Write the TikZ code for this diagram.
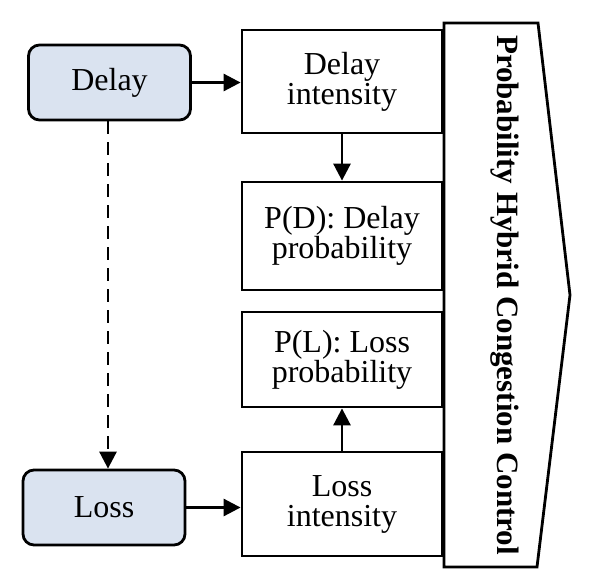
\documentclass[tikz,border=0pt]{standalone}
\usepackage{fontspec}
\setmainfont{Liberation Serif}
\usetikzlibrary{arrows.meta}
\definecolor{srcfill}{RGB}{218,227,240}
\begin{document}
\begin{tikzpicture}[x=1pt,y=-1pt,
  every node/.style={font=\fontsize{32}{30}\selectfont, align=center, inner sep=0pt},
  srcbox/.style={draw, line width=2.8pt, rounded corners=11pt, fill=srcfill, minimum width=162pt, minimum height=75pt},
  procbox/.style={draw, line width=2.8pt, minimum width=200pt},
  arr/.style={line width=2.8pt, -{Triangle[length=17pt,width=17pt]}}
]
\useasboundingbox (0,0) rectangle (592,587);
\node[srcbox] (delay) at (109.5,82.5) {Delay};
\node[srcbox] (loss) at (104,507.5) {Loss};
\node[procbox, minimum height=103pt] (di) at (342,81.5) {Delay\\intensity};
\node[procbox, minimum height=108pt] (pd) at (342,236) {P(D): Delay\\probability};
\node[procbox, minimum height=95pt] (pl) at (342,359.5) {P(L): Loss\\probability};
\node[procbox, minimum height=104pt] (li) at (342,504) {Loss\\intensity};
\draw[line width=2.8pt, line join=miter] (444,23) coordinate (a1) -- (538,23) coordinate (a2) -- (570,295) coordinate (a3) -- (537,567) coordinate (a4) -- (444,567) coordinate (a5) -- cycle;
\node[rotate=-90, font=\fontsize{31}{30}\selectfont\bfseries] (ctl) at (505,295) {Probability Hybrid Congestion Control};
\draw[arr] (delay.east) -- (di.west |- delay.east);
\draw[arr] (loss.east) -- (li.west |- loss.east);
\draw[arr] (di.south) -- (pd.north);
\draw[arr] (li.north) -- (pl.south);
\draw[arr, dash pattern=on 13pt off 8pt] (delay.south -| 108,0) -- (loss.north -| 108,0);
\end{tikzpicture}
\end{document}
